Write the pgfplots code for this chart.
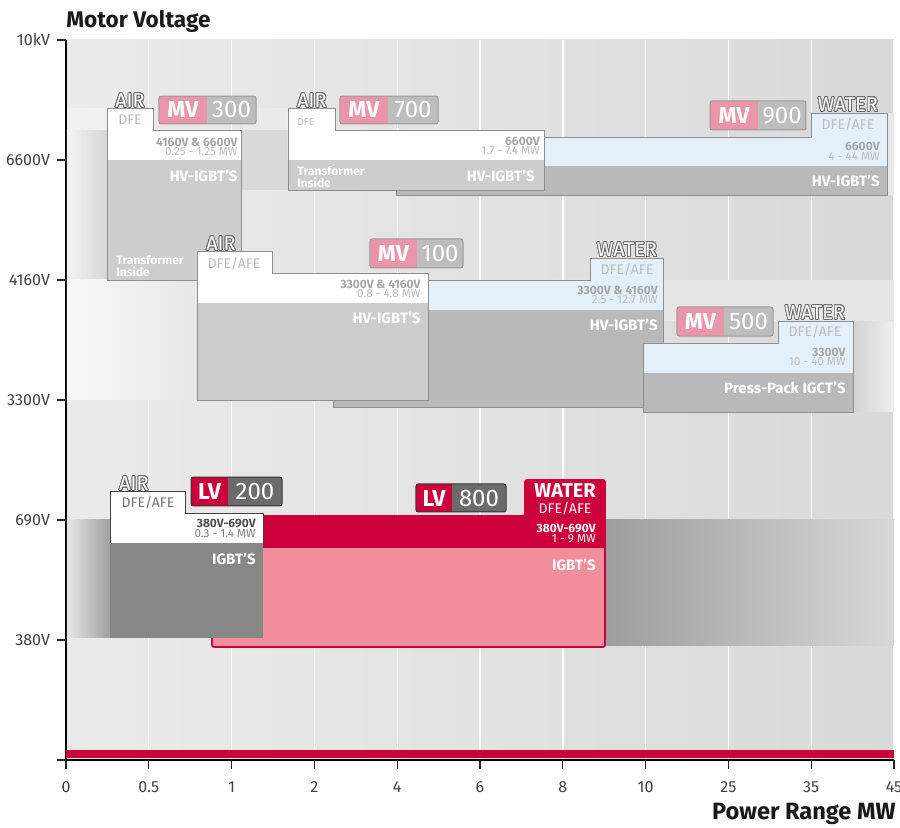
\documentclass[border=0pt]{standalone}
\usepackage{fontspec}
\setmainfont{Fira Sans}
\usepackage{pgfplots}
\pgfplotsset{compat=1.18}
\usepackage{contour}
\contourlength{0.4pt}
\contournumber{24}

\definecolor{bgL}{HTML}{EBEBEB}
\definecolor{bgR}{HTML}{D9D9D9}
\definecolor{crim}{HTML}{CC003B}
\definecolor{pinkb}{HTML}{E995AC}
\definecolor{pinklv}{HTML}{F08E9C}
\definecolor{badgeg}{HTML}{BDBDBD}
\definecolor{badged}{HTML}{6B6B6B}
\definecolor{wblue}{HTML}{E3F0F9}
\definecolor{hdA}{HTML}{A6A6A6}
\definecolor{hdB}{HTML}{BDBDBD}
\definecolor{edgec}{HTML}{8E8E8E}
\definecolor{outl}{HTML}{6E6E6E}
\definecolor{bodyA}{HTML}{CDCDCD}
\definecolor{bodyB}{HTML}{B9B9B9}
\definecolor{lvbody}{HTML}{878787}

\newcommand\fA{\fontsize{10}{11}\selectfont}
\newcommand\fAb{\fontsize{10}{11}\selectfont\bfseries}
\newcommand\fB{\fontsize{11.5}{12}\selectfont\bfseries}
\newcommand\fBr{\fontsize{12}{12}\selectfont}
\newcommand\fT{\fontsize{7}{8}\selectfont}
\newcommand\fH{\fontsize{6}{6.5}\selectfont\bfseries}
\newcommand\fHr{\fontsize{5.8}{6.3}\selectfont}
\newcommand\fL{\fontsize{7.5}{8}\selectfont\bfseries}
\newcommand\fTr{\fontsize{6}{6.3}\selectfont\bfseries}
\newcommand\outl[1]{{\color{white}\contour{outl}{#1}}}

% left-tab box: x1,x2,xt,ytab,yhead,ysplit,ybot,headcol,bodycol
\newcommand{\tabboxL}[9]{%
 \addplot[fill=#8, draw=none] coordinates {(#1,#6) (#1,#4) (#3,#4) (#3,#5) (#2,#5) (#2,#6)} --cycle;
 \addplot[fill=#9, draw=none] coordinates {(#1,#7) (#2,#7) (#2,#6) (#1,#6)} --cycle;
 \addplot[draw=edgec, line width=0.45pt] coordinates {(#1,#7) (#1,#4) (#3,#4) (#3,#5) (#2,#5) (#2,#7)} --cycle;
}
% right-tab box
\newcommand{\tabboxR}[9]{%
 \addplot[fill=#8, draw=none] coordinates {(#1,#6) (#1,#5) (#3,#5) (#3,#4) (#2,#4) (#2,#6)} --cycle;
 \addplot[fill=#9, draw=none] coordinates {(#1,#7) (#2,#7) (#2,#6) (#1,#6)} --cycle;
 \addplot[draw=edgec, line width=0.45pt] coordinates {(#1,#7) (#1,#5) (#3,#5) (#3,#4) (#2,#4) (#2,#7)} --cycle;
}
% badge: x1, xs, x2, ytop, ybot, col1, col2, edge
\newcommand{\badge}[8]{%
 \addplot[fill=#6, draw=none] coordinates {(#1,#5) (#1,#4) (#2,#4) (#2,#5)} --cycle;
 \addplot[fill=#7, draw=none] coordinates {(#2,#5) (#2,#4) (#3,#4) (#3,#5)} --cycle;
 \addplot[draw=#8, line width=0.5pt, rounded corners=1.2pt] coordinates {(#1,#5) (#1,#4) (#3,#4) (#3,#5)} --cycle;
}

\tikzset{rt/.style={anchor=east, inner sep=0pt}, ct/.style={inner sep=0pt}}

\begin{document}
\begin{tikzpicture}
\useasboundingbox (-33pt,-34pt) rectangle (417pt,380pt);
\begin{axis}[
  at={(0,0)}, anchor=south west, scale only axis,
  width=414pt, height=360pt,
  xmin=0, xmax=10, ymin=0, ymax=6,
  clip=false,
  axis x line*=bottom, axis y line*=left,
  axis line style={-, black, line width=0.6pt},
  xtick={0,...,10}, xticklabels={0,0.5,1,2,4,6,8,10,25,35,45},
  ytick={0,...,6}, yticklabels={{},380V,690V,3300V,4160V,6600V,10kV},
  tick align=outside, major tick length=4.5pt,
  tick style={black!85, line width=0.6pt},
  xmajorgrids,
  grid style={white, line width=0.7pt},
  tick label style={font=\fontsize{8}{9}\selectfont, text=black!75},
  xticklabel style={yshift=-3pt},
  axis background/.style={shade, left color=bgL, right color=bgR},
]
% ---- background bands
\addplot[draw=none, shade, left color={rgb,255:red,230;green,230;blue,230}, right color={rgb,255:red,160;green,160;blue,160}] coordinates {(0.012,1.017) (0.531,1.017) (0.531,2.008) (0.012,2.008)} --cycle;
\addplot[draw=none, shade, left color={rgb,255:red,157;green,157;blue,157}, right color={rgb,255:red,216;green,216;blue,216}] coordinates {(6.51,0.958) (10,0.958) (10,2.008) (6.51,2.008)} --cycle;
\addplot[draw=none, shade, left color={rgb,255:red,243;green,243;blue,243}, right color={rgb,255:red,214;green,214;blue,214}] coordinates {(0.012,4.0) (0.495,4.0) (0.495,5.25) (0.012,5.25)} --cycle;
\addplot[draw=none, fill={rgb,255:red,240;green,240;blue,240}] coordinates {(0.012,5.25) (0.495,5.25) (0.495,5.433) (0.012,5.433)} --cycle;
\addplot[draw=none, shade, left color={rgb,255:red,248;green,248;blue,248}, right color={rgb,255:red,232;green,232;blue,232}] coordinates {(0.012,3.0) (1.582,3.0) (1.582,4.0) (0.012,4.0)} --cycle;
\addplot[draw=none, fill={rgb,255:red,217;green,217;blue,217}] coordinates {(2.114,4.75) (2.681,4.75) (2.681,5.25) (2.114,5.25)} --cycle;
\addplot[draw=none, fill={rgb,255:red,235;green,235;blue,235}] coordinates {(2.114,5.25) (2.681,5.25) (2.681,5.433) (2.114,5.433)} --cycle;
\addplot[draw=none, shade, left color={rgb,255:red,210;green,210;blue,210}, right color={rgb,255:red,239;green,239;blue,239}] coordinates {(9.505,2.9) (10,2.9) (10,3.658) (9.505,3.658)} --cycle;
\addplot[draw=none, fill={rgb,255:red,230;green,230;blue,230}] coordinates {(7.21,3.658) (10,3.658) (10,4.0) (7.21,4.0)} --cycle;
\addplot[draw=none, fill={rgb,255:red,232;green,232;blue,232}] coordinates {(9.915,4.708) (10,4.708) (10,5.392) (9.915,5.392)} --cycle;

% ---- MV boxes
\tabboxR{3.986}{9.915}{8.998}{5.392}{5.192}{4.95}{4.708}{wblue}{bodyB}
\tabboxL{2.681}{5.773}{3.249}{5.433}{5.25}{5.0}{4.75}{white}{bodyA}
\tabboxL{0.495}{2.114}{1.051}{5.433}{5.25}{5.0}{4.0}{white}{bodyA}
\tabboxR{3.225}{7.210}{6.329}{4.183}{4.0}{3.75}{2.942}{wblue}{bodyB}
\tabboxL{1.582}{4.372}{2.488}{4.242}{4.058}{3.808}{3.0}{white}{bodyA}
\tabboxR{6.969}{9.505}{8.599}{3.658}{3.475}{3.225}{2.9}{wblue}{bodyB}

% ---- LV 800
\addplot[fill=crim, draw=none] coordinates {(1.763,1.767) (1.763,2.033) (5.543,2.033) (5.543,2.333) (6.51,2.333) (6.51,1.767)} --cycle;
\addplot[fill=pinklv, draw=none] coordinates {(1.763,0.942) (6.51,0.942) (6.51,1.767) (1.763,1.767)} --cycle;
\addplot[draw=crim, line width=0.9pt, rounded corners=1pt] coordinates {(1.763,0.942) (1.763,2.033) (5.543,2.033) (5.543,2.333) (6.51,2.333) (6.51,0.942)} --cycle;
% ---- LV 200
\addplot[fill=white, draw=none] coordinates {(0.531,1.808) (0.531,2.242) (1.437,2.242) (1.437,2.058) (2.379,2.058) (2.379,1.808)} --cycle;
\addplot[fill=lvbody, draw=none] coordinates {(0.531,1.017) (2.379,1.017) (2.379,1.808) (0.531,1.808)} --cycle;
\addplot[draw=black!75, line width=0.45pt] coordinates {(0.531,1.808) (0.531,2.242) (1.437,2.242) (1.437,2.058) (2.379,2.058) (2.379,1.808)};

% ---- bottom red bar
\addplot[fill=crim, draw=none] coordinates {(0,0.017) (10,0.017) (10,0.083) (0,0.083)} --cycle;

% ---- badges
\badge{1.123}{1.703}{2.295}{5.533}{5.30}{pinkb}{badgeg}{black!40}
\badge{3.309}{3.889}{4.493}{5.533}{5.30}{pinkb}{badgeg}{black!40}
\badge{7.778}{8.357}{8.937}{5.492}{5.25}{pinkb}{badgeg}{black!40}
\badge{3.671}{4.239}{4.795}{4.342}{4.10}{pinkb}{badgeg}{black!40}
\badge{7.379}{7.947}{8.539}{3.775}{3.533}{pinkb}{badgeg}{black!40}
\badge{1.510}{1.957}{2.609}{2.358}{2.117}{crim}{badged}{black!80}
\badge{4.227}{4.662}{5.314}{2.30}{2.067}{crim}{badged}{black!80}

\node[ct, text=white, font=\fB] at (axis cs:1.413,5.417) {MV};
\node[ct, text=white, font=\fBr] at (axis cs:1.999,5.417) {300};
\node[ct, text=white, font=\fB] at (axis cs:3.599,5.417) {MV};
\node[ct, text=white, font=\fBr] at (axis cs:4.191,5.417) {700};
\node[ct, text=white, font=\fB] at (axis cs:8.068,5.371) {MV};
\node[ct, text=white, font=\fBr] at (axis cs:8.647,5.371) {900};
\node[ct, text=white, font=\fB] at (axis cs:3.955,4.221) {MV};
\node[ct, text=white, font=\fBr] at (axis cs:4.517,4.221) {100};
\node[ct, text=white, font=\fB] at (axis cs:7.663,3.654) {MV};
\node[ct, text=white, font=\fBr] at (axis cs:8.243,3.654) {500};
\node[ct, text=white, font=\fB] at (axis cs:1.733,2.238) {LV};
\node[ct, text=white, font=\fBr] at (axis cs:2.283,2.238) {200};
\node[ct, text=white, font=\fB] at (axis cs:4.444,2.183) {LV};
\node[ct, text=white, font=\fBr] at (axis cs:4.988,2.183) {800};

% ---- AIR / WATER labels and tabs
\node[ct, font=\fA] at (axis cs:0.773,5.49) {\outl{AIR}};
\node[ct, font=\fT, text=hdB] at (axis cs:0.773,5.333) {DFE};
\node[ct, font=\fA] at (axis cs:2.971,5.49) {\outl{AIR}};
\node[anchor=west, inner sep=0pt, font=\fontsize{5}{6}\selectfont, text=hdB] at (axis cs:2.79,5.317) {DFE};
\node[ct, font=\fA] at (axis cs:9.444,5.458) {\outl{WATER}};
\node[ct, font=\fT, text=hdB] at (axis cs:9.444,5.292) {DFE/AFE};
\node[ct, font=\fA] at (axis cs:1.872,4.30) {\outl{AIR}};
\node[ct, font=\fT, text=hdB] at (axis cs:2.029,4.133) {DFE/AFE};
\node[ct, font=\fA] at (axis cs:6.775,4.25) {\outl{WATER}};
\node[ct, font=\fT, text=hdB] at (axis cs:6.775,4.083) {DFE/AFE};
\node[ct, font=\fA] at (axis cs:9.046,3.725) {\outl{WATER}};
\node[ct, font=\fT, text=hdB] at (axis cs:9.046,3.567) {DFE/AFE};
\node[ct, font=\fA] at (axis cs:0.821,2.30) {\outl{AIR}};
\node[ct, font=\fT, text=black!55] at (axis cs:0.99,2.142) {DFE/AFE};
\node[ct, font=\fAb, text=white] at (axis cs:6.027,2.242) {WATER};
\node[ct, font=\fT, text=white] at (axis cs:6.027,2.092) {DFE/AFE};

% ---- header and body texts
\node[rt, text=hdA, font=\fH] at (axis cs:2.077,5.15) {4160V \& 6600V};
\node[rt, text=hdB, font=\fHr] at (axis cs:2.077,5.067) {0.25 - 1.25 MW};
\node[rt, text=white, font=\fL] at (axis cs:2.077,4.867) {HV-IGBT'S};
\node[anchor=west, inner sep=0pt, align=left, text=white, font=\fTr] at (axis cs:0.604,4.117) {Transformer\\Inside};

\node[rt, text=hdA, font=\fH] at (axis cs:5.725,5.158) {6600V};
\node[rt, text=hdB, font=\fHr] at (axis cs:5.725,5.075) {1.7 - 7.4 MW};
\node[rt, text=white, font=\fL] at (axis cs:5.664,4.867) {HV-IGBT'S};
\node[anchor=west, inner sep=0pt, align=left, text=white, font=\fTr] at (axis cs:2.79,4.858) {Transformer\\Inside};

\node[rt, text=hdA, font=\fH] at (axis cs:9.831,5.117) {6600V};
\node[rt, text=hdB, font=\fHr] at (axis cs:9.831,5.033) {4 - 44 MW};
\node[rt, text=white, font=\fL] at (axis cs:9.831,4.825) {HV-IGBT'S};

\node[rt, text=hdA, font=\fH] at (axis cs:4.287,3.967) {3300V \& 4160V};
\node[rt, text=hdB, font=\fHr] at (axis cs:4.287,3.883) {0.8 - 4.8 MW};
\node[rt, text=white, font=\fL] at (axis cs:4.287,3.683) {HV-IGBT'S};

\node[rt, text=hdA, font=\fH] at (axis cs:7.150,3.917) {3300V \& 4160V};
\node[rt, text=hdB, font=\fHr] at (axis cs:7.150,3.833) {2.5 - 12.7 MW};
\node[rt, text=white, font=\fL] at (axis cs:7.150,3.625) {HV-IGBT'S};

\node[rt, text=hdA, font=\fH] at (axis cs:9.420,3.40) {3300V};
\node[rt, text=hdB, font=\fHr] at (axis cs:9.420,3.317) {10 - 40 MW};
\node[rt, text=white, font=\fL] at (axis cs:9.420,3.10) {Press-Pack IGCT'S};

\node[rt, text=black!70, font=\fH] at (axis cs:2.295,1.967) {380V-690V};
\node[rt, text=black!50, font=\fHr] at (axis cs:2.295,1.883) {0.3 - 1.4 MW};
\node[rt, text=white, font=\fL] at (axis cs:2.295,1.675) {IGBT'S};

\node[rt, text=white, font=\fH] at (axis cs:6.401,1.933) {380V-690V};
\node[rt, text=white, font=\fHr] at (axis cs:6.401,1.842) {1 - 9 MW};
\node[rt, text=white, font=\fL] at (axis cs:6.401,1.625) {IGBT'S};

% ---- titles
\node[anchor=base west, inner sep=0pt, font=\fontsize{11.3}{12}\selectfont\bfseries, text=black!90] at (axis cs:0,6) [yshift=6pt] {Motor Voltage};
\node[anchor=base east, inner sep=0pt, font=\fontsize{11.8}{12}\selectfont\bfseries, text=black!90] at (axis cs:10,0) [yshift=-30pt, xshift=1pt] {Power Range MW};
\end{axis}
\end{tikzpicture}
\end{document}
